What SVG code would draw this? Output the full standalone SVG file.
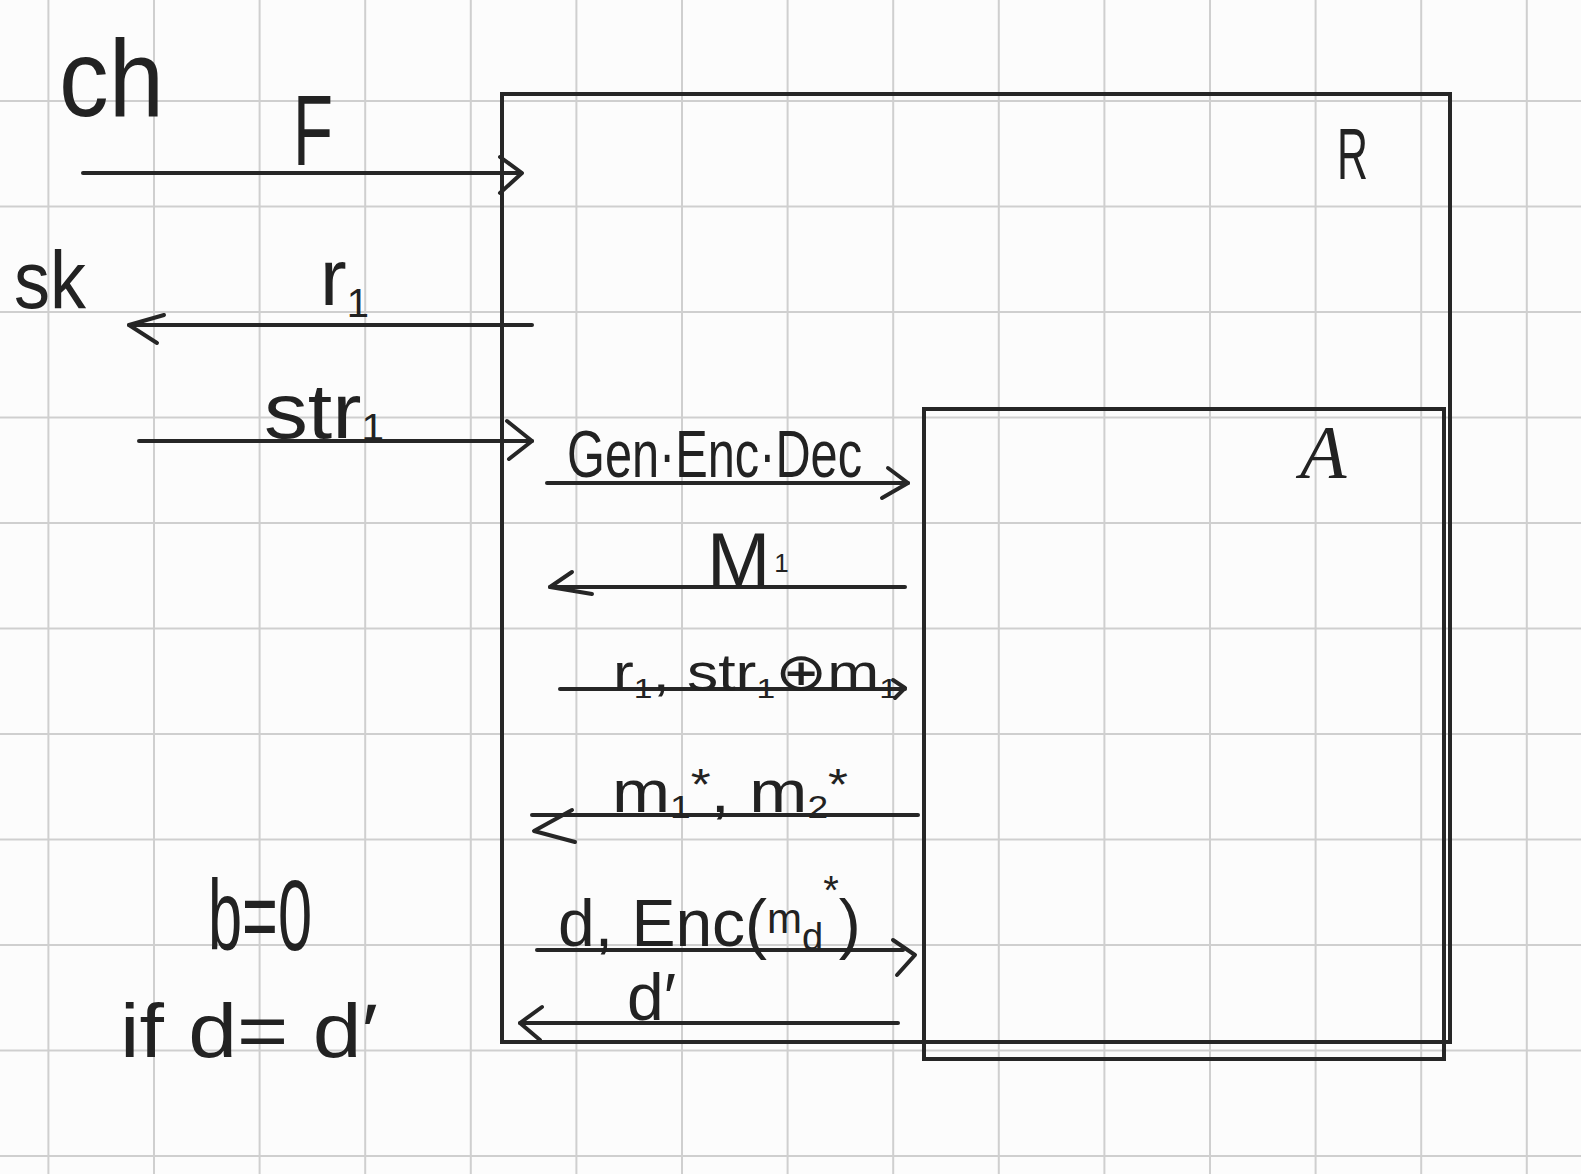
<svg xmlns="http://www.w3.org/2000/svg" width="1581" height="1174" viewBox="0 0 1581 1174">
<style>
.grid{stroke:#cfcfcf;stroke-width:2;fill:none}
.box{stroke:#262626;stroke-width:4;fill:none}
.ln{stroke:#262626;stroke-width:4;fill:none;stroke-linecap:round;stroke-linejoin:round}
.hd{stroke:#262626;stroke-width:4;fill:none;stroke-linecap:round;stroke-linejoin:round}
text{font-family:"Liberation Sans","DejaVu Sans",sans-serif;fill:#222}
.lbl{font-family:"Liberation Serif","DejaVu Serif",serif;font-style:italic}
</style>
<rect x="0" y="0" width="1581" height="1174" fill="#fcfcfc"/>
<path class="grid" d="M48.4,0V1174M154,0V1174M259.6,0V1174M365.2,0V1174M470.8,0V1174M576.4,0V1174M682,0V1174M787.6,0V1174M893.2,0V1174M998.8,0V1174M1104.4,0V1174M1210,0V1174M1315.6,0V1174M1421.2,0V1174M1526.8,0V1174M0,101H1581M0,206.5H1581M0,312H1581M0,417.5H1581M0,523H1581M0,628.5H1581M0,734H1581M0,839.5H1581M0,945H1581M0,1050.5H1581M0,1156H1581"/>

<text x="59" y="116" font-size="110" textLength="105" lengthAdjust="spacingAndGlyphs">ch</text>
<text x="14" y="308" font-size="82" textLength="72" lengthAdjust="spacingAndGlyphs">sk</text>
<text x="208" y="950" font-size="100" textLength="104" lengthAdjust="spacingAndGlyphs">b=0</text>
<text x="120" y="1057" font-size="76" textLength="258" lengthAdjust="spacingAndGlyphs">if d= d′</text>

<g id="R">
<rect class="box" x="502" y="94" width="948" height="948"/>
<text x="1337" y="179" font-size="72" textLength="31" lengthAdjust="spacingAndGlyphs">R</text>
</g>

<g id="A">
<rect class="box" x="924" y="409" width="520" height="650"/>
<text class="lbl" x="1300" y="478" font-size="76">A</text>
</g>

<g id="connectors">
<path class="ln" d="M83,173H521"/>
<path class="hd" d="M500,157L522,173L500,193"/>
<text x="293" y="165" font-size="100" textLength="40" lengthAdjust="spacingAndGlyphs">F</text>

<path class="ln" d="M532,325H129"/>
<path class="hd" d="M164,315L129,325L157,343"/>
<text x="320" y="305" font-size="80">r<tspan font-size="40" dy="12">1</tspan></text>

<path class="ln" d="M139,441H532"/>
<path class="hd" d="M507,421L532,441L509,459"/>
<text x="264" y="438" font-size="78" textLength="120" lengthAdjust="spacingAndGlyphs">str<tspan font-size="36" dy="2">1</tspan></text>

<path class="ln" d="M547,483H908"/>
<path class="hd" d="M888,468L908,483L882,498"/>
<text x="567" y="477" font-size="66" textLength="295" lengthAdjust="spacingAndGlyphs">Gen·Enc·Dec</text>

<path class="ln" d="M905,587H550"/>
<path class="hd" d="M572,572L550,587L592,594"/>
<text x="707" y="586" font-size="76">M<tspan font-size="26" dx="4" dy="-14">1</tspan></text>

<path class="ln" d="M560,689H905"/>
<path class="hd" d="M893,680L905,688L895,698"/>
<text x="613" y="690" font-size="52" textLength="285" lengthAdjust="spacingAndGlyphs">r<tspan font-size="28" dy="8">1</tspan><tspan dy="-8">, str</tspan><tspan font-size="28" dy="8">1</tspan><tspan dy="-8">⊕m</tspan><tspan font-size="28" dy="8">1</tspan></text>

<path class="ln" d="M918,815H532"/>
<path class="hd" d="M572,810L534,831L575,842"/>
<text x="612" y="812" font-size="60" textLength="236" lengthAdjust="spacingAndGlyphs">m<tspan font-size="32" dy="6">1</tspan><tspan font-size="44" dy="-18">*</tspan><tspan dy="12">, m</tspan><tspan font-size="32" dy="6">2</tspan><tspan font-size="44" dy="-18">*</tspan></text>

<path class="ln" d="M537,950H903"/>
<path class="hd" d="M893,940L915,955L897,975"/>
<text x="558" y="946" font-size="66">d, Enc(<tspan font-size="42" dy="-13">m</tspan><tspan font-size="38" dy="17">d</tspan><tspan font-size="40" dy="-46">*</tspan><tspan dy="42">)</tspan></text>

<path class="ln" d="M898,1023H520"/>
<path class="hd" d="M542,1007L520,1023L540,1040"/>
<text x="627" y="1020" font-size="66">d′</text>
</g>
</svg>
